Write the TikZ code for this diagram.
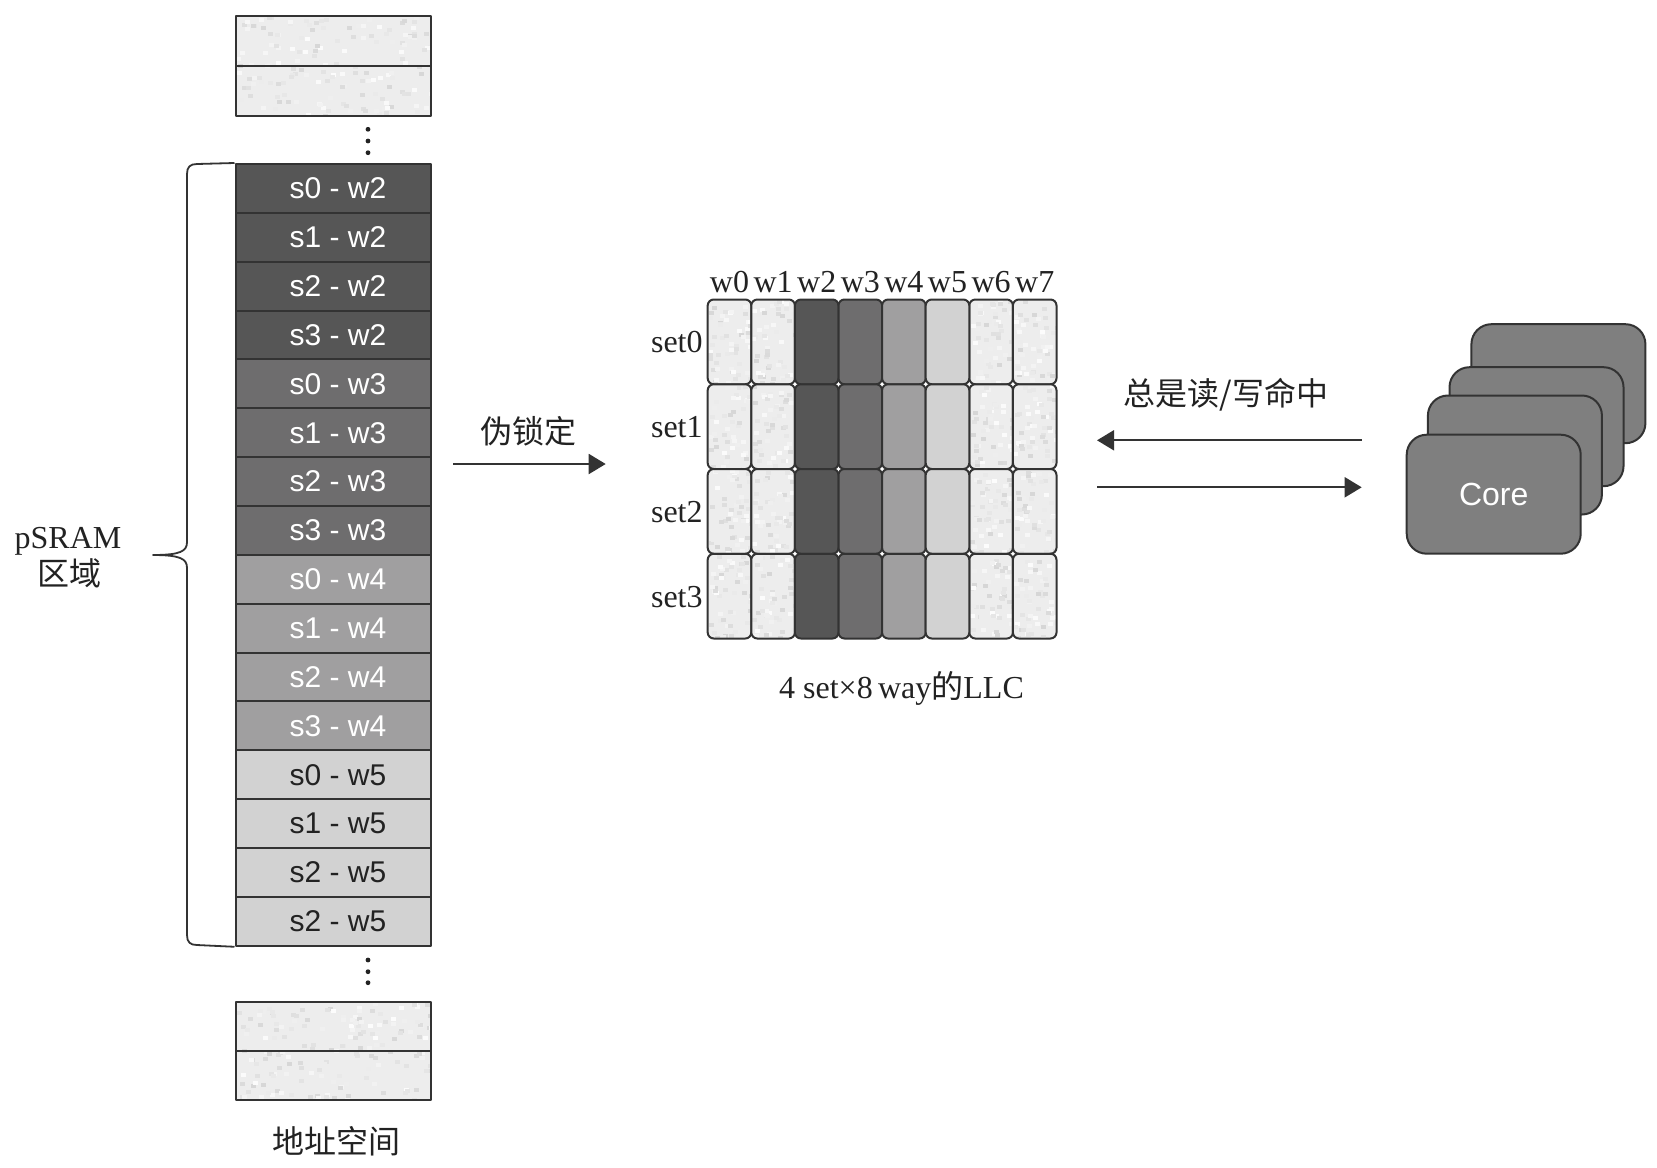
\documentclass[tikz,border=0pt]{standalone}
\usepackage{fontspec}
\setmainfont{Liberation Serif}
\newfontfamily\cjk{Noto Sans CJK SC}
\newfontfamily\arialf{Liberation Sans}
\usetikzlibrary{arrows.meta}
\definecolor{wtwo}{HTML}{565656}
\definecolor{wthree}{HTML}{6E6D6E}
\definecolor{wfour}{HTML}{A09FA0}
\definecolor{wfive}{HTML}{D2D2D2}
\definecolor{edge}{HTML}{333333}
\definecolor{corefill}{HTML}{7F7F7F}
\definecolor{ink}{HTML}{222222}
\definecolor{noisebase}{HTML}{EDEDED}
% #1 x1, #2 y1, #3 x2, #4 y2, #5 count, #6 corner radius
\newcommand\noisebox[6]{%
  \begin{scope}
    \clip[rounded corners=#6] (#1,#2) rectangle (#3,#4);
    \fill[noisebase] (#1,#2) rectangle (#3,#4);
    \foreach \k in {1,...,#5}{%
      \pgfmathsetmacro\rx{#1+rnd*(#3-#1)}%
      \pgfmathsetmacro\ry{#2+rnd*(#4-#2)}%
      \pgfmathsetmacro\gv{84+rnd*15}%
      \fill[white!\gv!black] (\rx,\ry) rectangle ++(5,4);
    }
  \end{scope}}
\begin{document}
\begin{tikzpicture}[x=0.5pt,y=-0.5pt,line join=round,
  rowbox/.style={draw=edge, line width=1pt, minimum width=97.5pt, minimum height=24.43pt,
    inner sep=0pt, font=\arialf\fontsize{15}{18}\selectfont},
  texbox/.style={draw=edge, line width=1pt, minimum width=97.5pt, inner sep=0pt},
  llccell/.style={draw=edge, line width=1pt, rounded corners=3pt, minimum width=21.8pt,
    minimum height=42.375pt, inner sep=0pt},
  corebox/.style={draw=edge, line width=1pt, fill=corefill, rounded corners=10pt,
    minimum width=87pt, minimum height=59.5pt, inner sep=0pt},
  arr/.style={draw=edge, line width=1pt, -{Triangle[length=8.5pt,width=10pt]}},
  serif/.style={font=\fontsize{16}{19}\selectfont, text=ink, inner sep=0pt},
  cjklab/.style={font=\cjk\fontsize{16}{19}\selectfont, text=ink, inner sep=0pt}]
\useasboundingbox (0,0) rectangle (1657,1167);
\pgfmathsetseed{4242}

% ---------- address space column ----------
\noisebox{235.5}{16}{430.5}{116}{170}{0pt}
\node[texbox, minimum height=25pt] (t0) at (333,41) {};
\node[texbox, minimum height=25pt] (t1) at (333,91) {};
\foreach \yy in {129.3,141,152.7} \fill[ink] (368,\yy) circle (1.2pt);

\foreach \i/\lab/\fc/\tc in {0/s0 - w2/wtwo/white, 1/s1 - w2/wtwo/white, 2/s2 - w2/wtwo/white,
  3/s3 - w2/wtwo/white, 4/s0 - w3/wthree/white, 5/s1 - w3/wthree/white, 6/s2 - w3/wthree/white,
  7/s3 - w3/wthree/white, 8/s0 - w4/wfour/white, 9/s1 - w4/wfour/white, 10/s2 - w4/wfour/white,
  11/s3 - w4/wfour/white, 12/s0 - w5/wfive/ink, 13/s1 - w5/wfive/ink, 14/s2 - w5/wfive/ink,
  15/s2 - w5/wfive/ink}
  \node[rowbox, fill=\fc, text=\tc] (r\i) at (333,{164+(\i+0.5)*48.86}) {\hspace*{5pt}\lab};

\foreach \yy in {960,971.7,982.7} \fill[ink] (368,\yy) circle (1.2pt);
\noisebox{235.5}{1001.7}{430.5}{1100}{170}{0pt}
\node[texbox, minimum height=24.5pt] (b0) at (333,1026.2) {};
\node[texbox, minimum height=24.65pt] (b1) at (333,1075.4) {};
\node[cjklab] (addr) at (336.7,1141.7) {地址空间};

% brace
\draw[edge, line width=0.9pt] (r0.north west) -- (197,164)
  .. controls (190,164) and (187,167) .. (187,174) -- (187,542)
  .. controls (187,551) and (181,555) .. (153,555)
  .. controls (181,555) and (187,559) .. (187,568) -- (187,935)
  .. controls (187,942) and (190,945) .. (197,945) -- (r15.south west);
\node[serif, anchor=base] (psram) at (68,548) {pSRAM};
\node[cjklab, anchor=base] (region) at (69,585) {区域};

% ---------- pseudo lock arrow ----------
\coordinate (lockS) at (453,464);
\coordinate (lockE) at (605.7,464);
\draw[arr] (lockS) -- (lockE);
\node[cjklab] (lockL) at (528,431.7) {伪锁定};

% ---------- LLC grid ----------
\foreach \j in {0,...,3}{
  \foreach \i in {0,1,6,7}{
    \pgfmathsetmacro\xa{707.7+\i*43.6}
    \pgfmathsetmacro\xb{707.7+(\i+1)*43.6}
    \pgfmathsetmacro\ya{299.5+\j*84.75}
    \pgfmathsetmacro\yb{299.5+(\j+1)*84.75}
    \noisebox{\xa}{\ya}{\xb}{\yb}{55}{3pt}
    \node[llccell] (c\j-\i) at ({707.7+(\i+0.5)*43.6},{299.5+(\j+0.5)*84.75}) {};
  }
  \foreach \i/\fc in {2/wtwo,3/wthree,4/wfour,5/wfive}
    \node[llccell, fill=\fc] (c\j-\i) at ({707.7+(\i+0.5)*43.6},{299.5+(\j+0.5)*84.75}) {};
  \node[serif, anchor=base east] (set\j) at (703,{299.5+(\j+0.5)*84.75+11}) {set\j};
}
\foreach \i in {0,...,7}
  \node[serif, anchor=base] (w\i) at ({707.7+(\i+0.5)*43.6},292) {w\i};
\node[serif, anchor=base] (cap) at (901.5,698) {4 set×8\,way{\cjk 的}LLC};

% ---------- arrows to cores ----------
\coordinate (hitR1) at (1361.7,440.3);
\coordinate (hitL1) at (1097,440.3);
\coordinate (hitL2) at (1097,487.3);
\coordinate (hitR2) at (1361.7,487.3);
\draw[arr] (hitR1) -- (hitL1);
\draw[arr] (hitL2) -- (hitR2);
\node[cjklab] (hitlab) at (1226,395) {总是读/写命中};

% ---------- cores ----------
\node[corebox] (core4) at (1558.4,383.7) {};
\node[corebox] (core3) at (1536.5,426.7) {};
\node[corebox] (core2) at (1514.9,455) {};
\node[corebox, text=white, font=\arialf\fontsize{16}{19}\selectfont] (core1) at (1493.7,494.2) {Core};
\end{tikzpicture}
\end{document}
